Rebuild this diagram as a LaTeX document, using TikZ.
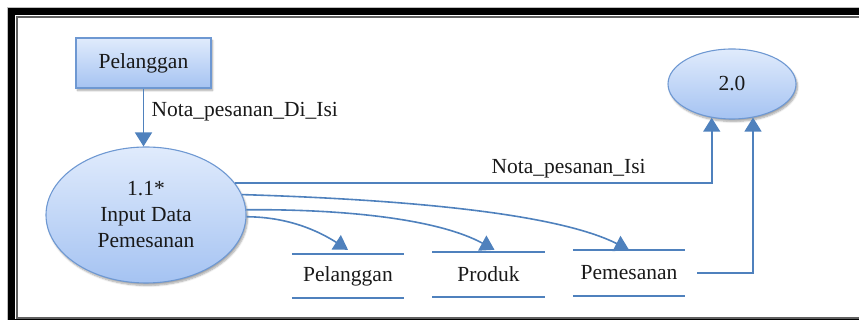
\documentclass[tikz,border=0pt]{standalone}
\usepackage{fontspec}
\setmainfont{Liberation Serif}
\newfontfamily\dfdfont{Liberation Serif}
\usetikzlibrary{arrows.meta,shapes.geometric,shadows.blur}
\definecolor{flow}{HTML}{4F81BD}
\definecolor{edge}{HTML}{6E98D2}
\definecolor{filltop}{HTML}{E0EBFC}
\definecolor{fillbot}{HTML}{A5C3F2}

\begin{document}
\begin{tikzpicture}[x=1pt,y=1pt,
  every node/.style={font=\dfdfont\fontsize{21.5}{26}\selectfont, text=black!90},
  shaded/.style={draw=edge, line width=1.1pt, top color=filltop, bottom color=fillbot,
    blur shadow={shadow xshift=1.5pt, shadow yshift=-2.5pt, shadow blur steps=6, shadow opacity=35}},
  entity/.style={shaded, rectangle, minimum width=135pt, minimum height=50pt, inner sep=0pt},
  process/.style={shaded, ellipse, inner sep=0pt, align=center},
  store/.style={rectangle, minimum width=112pt, inner sep=0pt},
  storeline/.style={draw=flow, line width=1.6pt},
  flowline/.style={draw=flow, line width=1.6pt, -{Triangle[length=14pt,width=17pt]}}
]
\useasboundingbox (0,0) rectangle (859,320);

% page frame: thick black band between two thin grey rules
\begin{scope}
  \clip (0,0) rectangle (859,320);
  \draw[gray!50, line width=0.8pt] (7.6,-10) rectangle (900,312.4);
  \draw[black, line width=7pt] (11.5,-3) rectangle (900,308.5);
  \draw[gray!75!black, line width=1.2pt] (17,2) rectangle (900,303);
\end{scope}

% external entity and processes
\node[entity] (pel) at (143.5,257) {Pelanggan};
\node[process, minimum width=200pt, minimum height=136pt] (p11) at (146,105)
  {1.1*\\Input Data\\Pemesanan};
\node[process, minimum width=128pt, minimum height=70pt] (p20) at (732,236) {2.0};

% data stores
\node[store, minimum height=44pt] (s1) at (348,44) {Pelanggan};
\node[store, minimum height=45pt] (s2) at (488.5,45.5) {Produk};
\node[store, minimum height=46pt] (s3) at (629,47) {Pemesanan};
\foreach \s in {s1,s2,s3}
  \draw[storeline] (\s.north west) -- (\s.north east) (\s.south west) -- (\s.south east);

% data flows
\draw[flowline] (pel.south) -- (pel.south |- p11.north)
  node[pos=0.4, anchor=west, xshift=4pt] {Nota\_pesanan\_Di\_Isi};
\draw[flowline] (p11.20) -| (p20.239)
  node[pos=0.35, above] {Nota\_pesanan\_Isi};
\draw[flowline] ([xshift=12pt]s3.east) -| (p20.302);
\draw[flowline] (p11.12) .. controls (420,120) and (560,105) .. (s3.north);
\draw[flowline] (p11.3) .. controls (350,111) and (440,100) .. ([xshift=6pt,yshift=2pt]s2.north);
\draw[flowline] (p11.359) .. controls (290,103) and (320,88) .. ([yshift=4pt]s1.north);
\end{tikzpicture}
\end{document}
